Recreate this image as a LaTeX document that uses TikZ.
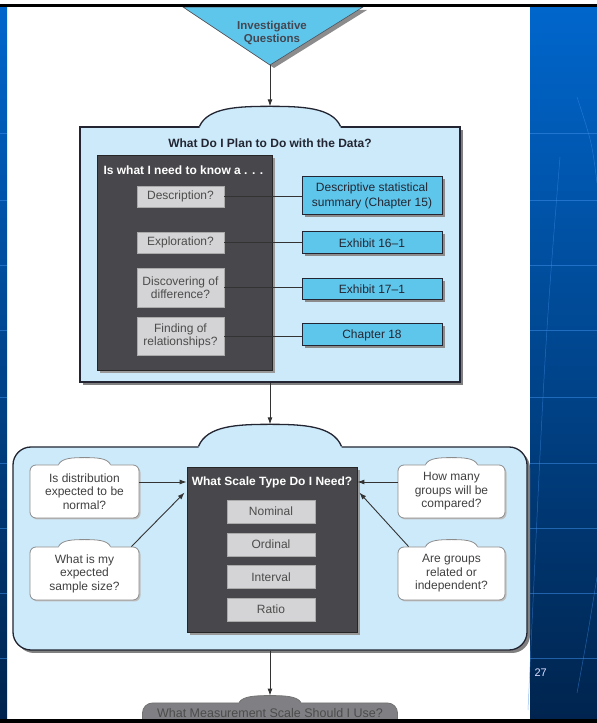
\documentclass[tikz,border=0pt]{standalone}
\usepackage{fontspec}
\setmainfont{Liberation Sans}
\usetikzlibrary{arrows.meta, positioning, calc, shadows}
\definecolor{slideblue}{RGB}{0,102,204}
\definecolor{slidemid}{RGB}{0,70,150}
\definecolor{slidenavy}{RGB}{0,36,78}
\definecolor{slideline}{RGB}{60,140,230}
\definecolor{panelblue}{RGB}{204,234,250}
\definecolor{cyanbox}{RGB}{95,198,235}
\definecolor{darkpanel}{RGB}{72,72,76}
\definecolor{itemgray}{RGB}{212,212,214}
\definecolor{usegray}{RGB}{128,128,132}
\definecolor{inkdark}{RGB}{35,38,50}

% bump on top of a panel: node, half width, height, fill, line
\newcommand{\capbump}[5]{%
  \fill[#4] ($(#1.north)+(-#2,-1.5)$) -- ($(#1.north)+(-#2,0)$)
    .. controls +(0.12*#2,0.95*#3) and +(-0.45*#2,0) .. ($(#1.north)+(0,#3)$)
    .. controls +(0.45*#2,0) and +(-0.12*#2,0.95*#3) .. ($(#1.north)+(#2,0)$)
    -- ($(#1.north)+(#2,-1.5)$) -- cycle;
  \draw[#5] ($(#1.north)+(-#2,0)$)
    .. controls +(0.12*#2,0.95*#3) and +(-0.45*#2,0) .. ($(#1.north)+(0,#3)$)
    .. controls +(0.45*#2,0) and +(-0.12*#2,0.95*#3) .. ($(#1.north)+(#2,0)$);}

\tikzset{
  panel/.style={draw=inkdark, line width=1.3pt, fill=panelblue,
    drop shadow={shadow xshift=3pt, shadow yshift=-3pt, fill=black!50, opacity=1}},
  darkbox/.style={draw=black!85, line width=0.8pt, fill=darkpanel,
    drop shadow={shadow xshift=3pt, shadow yshift=-3pt, fill=black!40, opacity=1}},
  itembox/.style={fill=itemgray, draw=itemgray!80!black, line width=0.3pt,
    minimum width=87pt, align=center, text=black!70,
    font=\fontsize{12}{13.5}\selectfont},
  refbox/.style={draw=inkdark, line width=1pt, fill=cyanbox,
    minimum width=140pt, align=center, text=inkdark,
    font=\fontsize{12}{14.5}\selectfont,
    drop shadow={shadow xshift=2.5pt, shadow yshift=-2.5pt, fill=black!45, opacity=1}},
  askbox/.style={draw=black!45, line width=0.8pt, fill=white, rounded corners=6pt,
    minimum height=53pt, align=center, text=black!75,
    font=\fontsize{12}{13.5}\selectfont,
    drop shadow={shadow xshift=1.5pt, shadow yshift=-1.5pt, fill=black!25, opacity=1}},
  headtext/.style={font=\bfseries\fontsize{12}{13.5}\selectfont},
  link/.style={draw=black!80, line width=0.9pt},
  flow/.style={draw=black!80, line width=0.9pt, -{Latex[length=7pt,width=5pt]}},
  stripline/.style={draw=slideline, line width=0.5pt, opacity=0.55}
}

\begin{document}
\begin{tikzpicture}[x=1pt, y=1pt]
  \useasboundingbox (0,0) rectangle (597,723);
  \fill[white] (0,0) rectangle (597,723);

  % slide background
  \shade[top color=slideblue, middle color=slidemid, bottom color=slidenavy]
    (530,4) rectangle (597,716);
  \shade[top color=slideblue, middle color=slidemid, bottom color=slidenavy]
    (0,4) rectangle (7,716);
  \foreach \y in {590,523,458,393,326,260,195,130,65} {
    \draw[stripline] (530,\y) -- (597,\y);
    \draw[stripline] (0,\y) -- (7,\y);
  }
  \draw[stripline] (560,566) .. controls (545,380) .. (528,13);
  \draw[stripline] (577,626) .. controls (592,580) .. (597,540);
  \draw[stripline] (597,146) .. controls (588,90) .. (577,30);

  % investigative questions
  \fill[black!45] (187,713) -- (367,713) -- (274,655) -- cycle;
  \draw[fill=cyanbox, draw=inkdark!80, line width=0.6pt]
    (183,716) -- (363,716) -- (270,658) -- cycle;
  \coordinate (apex) at (270,658);
  \node[align=center, text=inkdark!85, font=\bfseries\fontsize{11.5}{13}\selectfont]
    (invq) at (272,690) {Investigative\\Questions};

  % what do I plan to do with the data
  \node[panel, minimum width=380pt, minimum height=255pt] (plan) at (270,468.5) {};
  \capbump{plan}{70.5}{20}{panelblue}{draw=inkdark, line width=1.3pt}
  \coordinate (plantop) at ($(plan.north)+(0,20)$);
  \node[headtext, text=inkdark] (plantitle) at (270,580) {What Do I Plan to Do with the Data?};

  \node[darkbox, minimum width=175pt, minimum height=215pt] (knowbox) at (184.5,460.5) {};
  \node[headtext, text=white, anchor=west] (knowhead) at (100,553)
    {Is what I need to know a . . .};

  \node[itembox, minimum height=21pt] (desc) at (180.5,526.5) {Description?};
  \node[itembox, minimum height=21pt] (expl) at (180.5,480.5) {Exploration?};
  \node[itembox, minimum height=39pt] (diff) at (180.5,435.5) {Discovering of\\difference?};
  \node[itembox, minimum height=38pt] (rel)  at (180.5,387)   {Finding of\\relationships?};

  \node[refbox, minimum height=38pt] (summ) at (372,527)   {Descriptive statistical\\summary (Chapter 15)};
  \node[refbox, minimum height=22pt] (ex16) at (372,480)   {Exhibit 16–1};
  \node[refbox, minimum height=21pt] (ex17) at (372,433.5) {Exhibit 17–1};
  \node[refbox, minimum height=22pt] (ch18) at (372,388)   {Chapter 18};

  \foreach \a/\b in {desc/summ, expl/ex16, diff/ex17, rel/ch18}
    {\draw[link] (\a.east) -- (\a.east -| \b.west);}

  % what scale type do I need
  \node[panel, rounded corners=18pt, minimum width=514pt, minimum height=203pt]
    (choose) at (270,174.5) {};
  \capbump{choose}{71.5}{22}{panelblue}{draw=inkdark, line width=1.3pt}
  \coordinate (choosetop) at ($(choose.north)+(0,22)$);
  \draw[flow] (plan.south) -- (choosetop);
  \draw[flow] (apex) -- (plantop);

  \node[darkbox, minimum width=170pt, minimum height=165pt] (sctype) at (272,173.5) {};
  \node[headtext, text=white] (schead) at (272,241) {What Scale Type Do I Need?};
  \foreach \t/\y [count=\i] in {Nominal/211.5, Ordinal/178.5, Interval/146, Ratio/113.5}
    {\node[itembox, minimum width=88pt, minimum height=23pt] (lvl\i) at (271,\y) {\t};}

  \node[askbox, minimum width=109pt] (askdist)   at (84.5,231.5)  {Is distribution\\expected to be\\normal?};
  \node[askbox, minimum width=109pt] (asksize)   at (84.5,149.5)  {What is my\\expected\\sample size?};
  \node[askbox, minimum width=107pt] (askgroups) at (451.5,231.5) {How many\\groups will be\\compared?};
  \node[askbox, minimum width=107pt] (askrel)    at (451.5,149.5) {Are groups\\related or\\independent?};
  \foreach \n in {askdist, asksize, askgroups, askrel}
    {\capbump{\n}{26}{7}{white}{draw=black!45, line width=0.8pt}}

  \draw[flow] (askdist.east |- schead) -- (sctype.west |- schead);
  \draw[flow] (askgroups.west |- schead) -- (sctype.east |- schead);
  \draw[flow] ($(asksize.north east)+(-8,0)$) -- ($(sctype.north west)+(-2,-26)$);
  \draw[flow] ($(askrel.north west)+(11,0)$) -- ($(sctype.north east)+(2,-26)$);

  % what measurement scale should I use
  \node[fill=usegray, draw=black!55, line width=0.8pt, rounded corners=10pt,
        minimum width=255pt, minimum height=34pt] (usescale) at (270,3) {};
  \capbump{usescale}{31}{7}{usegray}{draw=black!55, line width=0.8pt}
  \coordinate (usetop) at ($(usescale.north)+(0,7)$);
  \draw[flow] (choose.south) -- (usetop);
  \node[text=black!70, font=\fontsize{12.5}{14}\selectfont] (usetext) at (270,9.5)
    {What Measurement Scale Should I Use?};

  % slide frame
  \fill[black] (0,0) rectangle (597,4);
  \fill[black] (0,716) rectangle (597,719);
  \node[anchor=west, text=white!88!blue, font=\fontsize{11}{13}\selectfont]
    (pagenum) at (531,50) {27};
\end{tikzpicture}
\end{document}
